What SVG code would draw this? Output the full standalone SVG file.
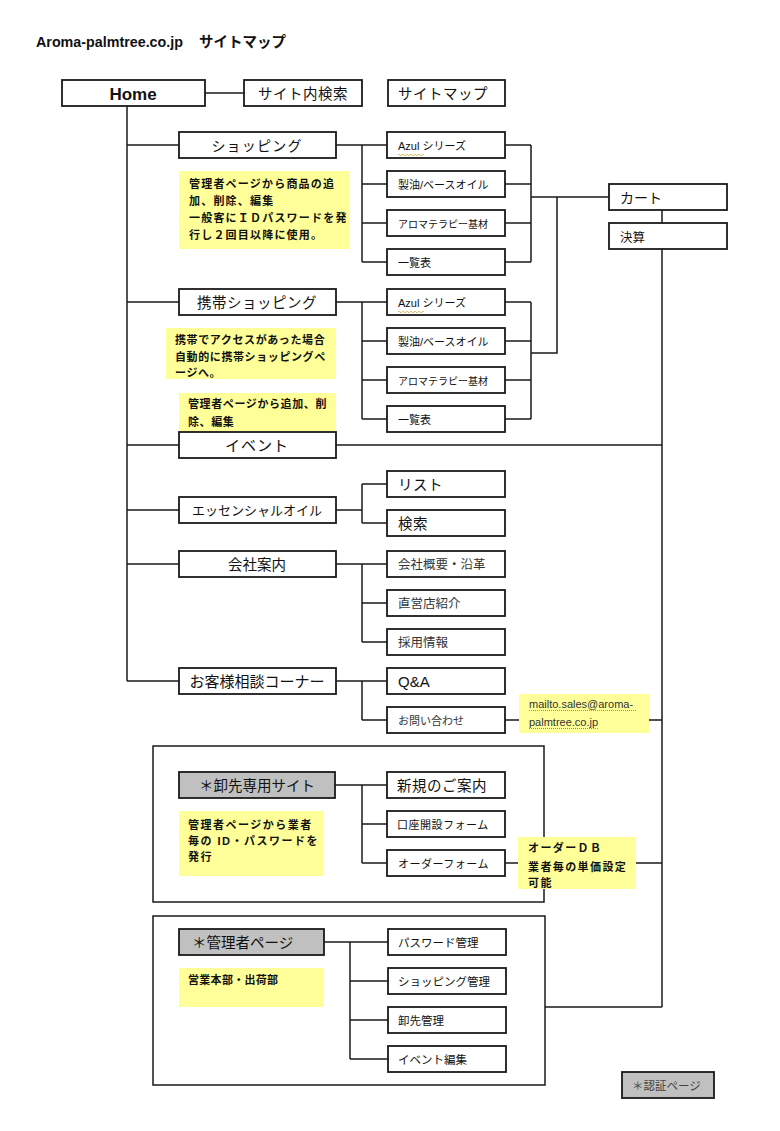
<svg xmlns="http://www.w3.org/2000/svg" width="780" height="1131" viewBox="0 0 780 1131">
<style>
text{font-family:"Liberation Sans","Noto Sans CJK JP",sans-serif;fill:#111}
.box{fill:#fff;stroke:#1a1a1a;stroke-width:1.8}
.gray{fill:#c0c0c0;stroke:#1a1a1a;stroke-width:1.8}
.frame{fill:none;stroke:#1a1a1a;stroke-width:1.5}
.note{fill:#ffff99;stroke:none}
.ln{fill:none;stroke:#1a1a1a;stroke-width:1.5}
.c{text-anchor:middle}
.l14{font-size:14.5px;letter-spacing:0.5px}
.s11{font-size:11px}
.s12{font-size:12.5px}
.nt{font-size:11px;font-weight:bold;letter-spacing:1.2px}
.sq{fill:none;stroke:#c8b040;stroke-width:0.8}
.dot{stroke:#777;stroke-width:0.8;stroke-dasharray:1 1}
</style>

<text x="36" y="47" style="font-size:14.3px;font-weight:bold">Aroma-palmtree.co.jp</text>
<text x="199" y="47" style="font-size:14.5px;font-weight:bold">サイトマップ</text>

<g id="connectors">
  <path class="ln" d="M205,93H244"/>
  <path class="ln" d="M127,106V681"/>
  <path class="ln" d="M127,145H179M127,302H179M127,445H179M127,510H179M127,564H179M127,681H179"/>
  <path class="ln" d="M336,145H387M362,145V262M362,184H387M362,223H387M362,262H387"/>
  <path class="ln" d="M505,145H531M505,184H531M505,223H531M505,262H531M531,145V262M531,197H609"/>
  <path class="ln" d="M336,302H387M362,302V419M362,341H387M362,380H387M362,419H387"/>
  <path class="ln" d="M505,302H531M505,341H531M505,380H531M505,419H531M531,302V419M531,353H557V197"/>
  <path class="ln" d="M662,210V223M662,249V1007"/>
  <path class="ln" d="M336,445H662"/>
  <path class="ln" d="M336,510H362M362,484V523M362,484H387M362,523H387"/>
  <path class="ln" d="M336,564H387M362,564V642M362,603H387M362,642H387"/>
  <path class="ln" d="M336,681H387M362,681V720M362,720H387M505,720H519M649,720H662"/>
  <path class="ln" d="M335,785H387M362,785V863M362,824H387M362,863H387M505,863H518M636,863H662"/>
  <path class="ln" d="M324,942H388M350,942V1059M350,981H388M350,1020H388M350,1059H388M545,1007H662"/>
</g>

<g id="home"><rect class="box" x="62" y="80" width="143" height="26"/><text x="133" y="100" class="c" style="font-size:17px;font-weight:bold">Home</text></g>
<g id="search"><rect class="box" x="244" y="80" width="118" height="26"/><text x="303" y="99" class="c l14">サイト内検索</text></g>
<g id="sitemap"><rect class="box" x="388" y="80" width="117" height="26"/><text x="398" y="99" class="l14">サイトマップ</text></g>

<g id="shopping"><rect class="box" x="179" y="132" width="157" height="26"/><text x="257" y="151" class="c" style="font-size:14px;letter-spacing:1.2px">ショッピング</text></g>
<g id="note-shopping"><rect class="note" x="179" y="171" width="170" height="78"/>
  <text class="nt"><tspan x="189" y="188">管理者ページから商品の追</tspan><tspan x="189" y="205">加、削除、編集</tspan><tspan x="189" y="222">一般客にＩＤパスワードを発</tspan><tspan x="189" y="239">行し２回目以降に使用。</tspan></text></g>
<g id="shop-azul"><rect class="box" x="387" y="132" width="118" height="26"/><text x="398" y="150" class="s11">Azul シリーズ</text><path class="sq" d="M398,155q1,-1.5 2,0t2,0t2,0t2,0t2,0t2,0t2,0t2,0t2,0t2,0t2,0t2,0t2,0"/></g>
<g id="shop-oil"><rect class="box" x="387" y="171" width="118" height="26"/><text x="398" y="189" class="s11">製油/ベースオイル</text></g>
<g id="shop-aroma"><rect class="box" x="387" y="210" width="118" height="26"/><text x="398" y="228" style="font-size:10px">アロマテラピー基材</text></g>
<g id="shop-list"><rect class="box" x="387" y="249" width="118" height="26"/><text x="398" y="267" class="s11">一覧表</text></g>

<g id="cart"><rect class="box" x="609" y="184" width="118" height="26"/><text x="620" y="203" style="font-size:14px">カート</text></g>
<g id="checkout"><rect class="box" x="609" y="223" width="118" height="26"/><text x="620" y="242" style="font-size:12.5px">決算</text></g>

<g id="mobile"><rect class="box" x="179" y="289" width="157" height="26"/><text x="257" y="308" class="c" style="font-size:14.5px;letter-spacing:0.5px">携帯ショッピング</text></g>
<g id="note-mobile"><rect class="note" x="166" y="328" width="170" height="51"/>
  <text class="nt" style="letter-spacing:0.6px"><tspan x="175" y="344">携帯でアクセスがあった場合</tspan><tspan x="175" y="361">自動的に携帯ショッピングペ</tspan><tspan x="175" y="377">ージへ。</tspan></text></g>
<g id="note-event"><rect class="note" x="179" y="393" width="157" height="39"/>
  <text class="nt" style="letter-spacing:0.6px"><tspan x="188" y="408">管理者ページから追加、削</tspan><tspan x="188" y="426">除、編集</tspan></text></g>
<g id="mob-azul"><rect class="box" x="387" y="289" width="118" height="26"/><text x="398" y="307" class="s11">Azul シリーズ</text><path class="sq" d="M398,312q1,-1.5 2,0t2,0t2,0t2,0t2,0t2,0t2,0t2,0t2,0t2,0t2,0t2,0t2,0"/></g>
<g id="mob-oil"><rect class="box" x="387" y="328" width="118" height="26"/><text x="398" y="346" class="s11">製油/ベースオイル</text></g>
<g id="mob-aroma"><rect class="box" x="387" y="367" width="118" height="26"/><text x="398" y="385" style="font-size:10px">アロマテラピー基材</text></g>
<g id="mob-list"><rect class="box" x="387" y="406" width="118" height="26"/><text x="398" y="424" class="s11">一覧表</text></g>

<g id="event"><rect class="box" x="179" y="432" width="157" height="26"/><text x="257" y="451" class="c" style="font-size:15px;letter-spacing:1px">イベント</text></g>

<g id="essential"><rect class="box" x="179" y="497" width="157" height="26"/><text x="257" y="515" class="c" style="font-size:13px">エッセンシャルオイル</text></g>
<g id="ess-list"><rect class="box" x="387" y="471" width="118" height="26"/><text x="398" y="490" class="l14">リスト</text></g>
<g id="ess-search"><rect class="box" x="387" y="510" width="118" height="26"/><text x="398" y="529" class="l14">検索</text></g>

<g id="company"><rect class="box" x="179" y="551" width="157" height="26"/><text x="257" y="570" class="c" style="font-size:14.5px">会社案内</text></g>
<g id="comp-profile"><rect class="box" x="387" y="551" width="118" height="26"/><text x="398" y="569" class="s12" style="fill:#333">会社概要・沿革</text></g>
<g id="comp-shop"><rect class="box" x="387" y="590" width="118" height="26"/><text x="398" y="608" class="s12" style="fill:#333">直営店紹介</text></g>
<g id="comp-recruit"><rect class="box" x="387" y="629" width="118" height="26"/><text x="398" y="647" class="s12" style="fill:#333">採用情報</text></g>

<g id="customer"><rect class="box" x="179" y="668" width="157" height="26"/><text x="257" y="687" class="c" style="font-size:15px">お客様相談コーナー</text></g>
<g id="qa"><rect class="box" x="387" y="668" width="118" height="26"/><text x="398" y="687" style="font-size:15px">Q&amp;A</text></g>
<g id="contact"><rect class="box" x="387" y="707" width="118" height="26"/><text x="398" y="725" class="s11" style="fill:#333">お問い合わせ</text></g>
<g id="note-mail"><rect class="note" x="519" y="694" width="130" height="39"/>
  <text style="font-size:11px;fill:#333"><tspan x="529" y="708">mailto.sales@aroma-</tspan><tspan x="529" y="726">palmtree.co.jp</tspan></text>
  <path class="dot" d="M529,710.5H637M529,728.5H598"/></g>

<g id="wholesale-frame"><rect class="frame" x="153" y="746" width="391" height="156"/></g>
<g id="wholesale"><rect class="gray" x="179" y="772" width="156" height="26"/><text x="257" y="791" class="c" style="font-size:14.5px">＊卸先専用サイト</text></g>
<g id="note-wholesale"><rect class="note" x="179" y="811" width="144" height="65"/>
  <text class="nt" style="letter-spacing:1.5px"><tspan x="188" y="829">管理者ページから業者</tspan><tspan x="188" y="845">毎の ID・パスワードを</tspan><tspan x="188" y="861">発行</tspan></text></g>
<g id="ws-new"><rect class="box" x="387" y="772" width="118" height="26"/><text x="397" y="791" class="l14">新規のご案内</text></g>
<g id="ws-account"><rect class="box" x="387" y="811" width="118" height="26"/><text x="397" y="829" style="font-size:11px;letter-spacing:0.5px">口座開設フォーム</text></g>
<g id="ws-order"><rect class="box" x="387" y="850" width="118" height="26"/><text x="398" y="868" style="font-size:11px;letter-spacing:0.5px">オーダーフォーム</text></g>
<g id="note-order"><rect class="note" x="518" y="837" width="118" height="52"/>
  <text class="nt" style="letter-spacing:1.4px"><tspan x="528" y="852">オーダーＤＢ</tspan><tspan x="528" y="871">業者毎の単価設定</tspan><tspan x="528" y="887">可能</tspan></text></g>

<g id="admin-frame"><rect class="frame" x="153" y="916" width="392" height="169"/></g>
<g id="admin"><rect class="gray" x="179" y="929" width="145" height="26"/><text x="192" y="948" style="font-size:14.5px">＊管理者ページ</text></g>
<g id="note-admin"><rect class="note" x="179" y="968" width="145" height="39"/><text x="188" y="984" class="nt" style="letter-spacing:0.3px">営業本部・出荷部</text></g>
<g id="ad-pass"><rect class="box" x="388" y="929" width="118" height="26"/><text x="398" y="947" style="font-size:11.5px">パスワード管理</text></g>
<g id="ad-shop"><rect class="box" x="388" y="968" width="118" height="26"/><text x="398" y="986" style="font-size:11.5px">ショッピング管理</text></g>
<g id="ad-ws"><rect class="box" x="388" y="1007" width="118" height="26"/><text x="398" y="1025" style="font-size:11.5px">卸先管理</text></g>
<g id="ad-event"><rect class="box" x="388" y="1046" width="118" height="26"/><text x="398" y="1064" style="font-size:11.5px">イベント編集</text></g>

<g id="legend"><rect class="gray" x="622" y="1072" width="92" height="26"/><text x="632" y="1090" style="font-size:11.5px;fill:#444">＊認証ページ</text></g>
</svg>
